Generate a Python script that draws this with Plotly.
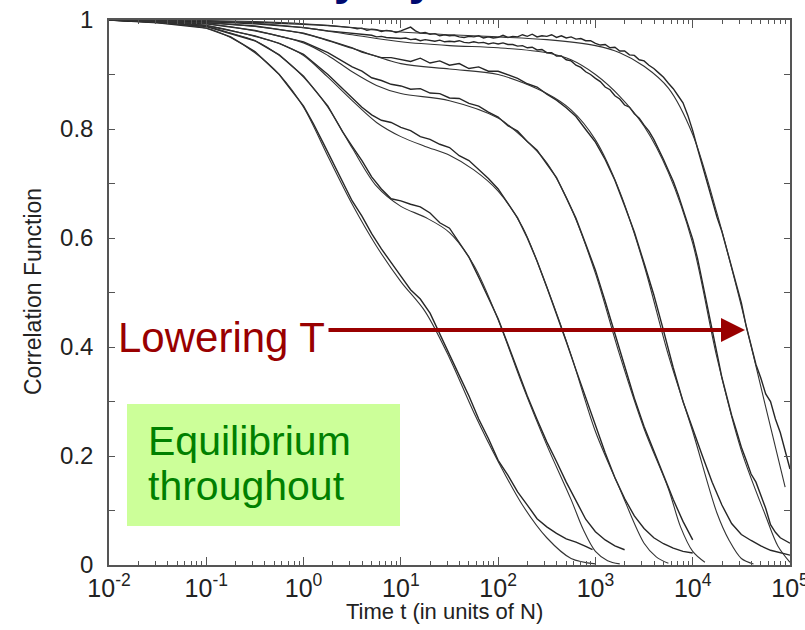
import plotly.graph_objects as go

# ---------------- fitted curves (log10 t, C) ----------------
fit1_logt = [-2, -1.5, -1, -0.75, -0.5, -0.25, 0, 0.25, 0.5, 0.75, 1, 1.25, 1.5, 1.75, 2, 2.25, 2.5, 2.75, 3]
fit1_c = [1, 0.995, 0.985, 0.968, 0.94, 0.9, 0.84, 0.75, 0.662, 0.585, 0.52, 0.465, 0.38, 0.28, 0.19, 0.11, 0.05, 0.012, 0.002]

fit2_logt = [-2, -1.5, -1, -0.75, -0.5, -0.25, 0, 0.25, 0.5, 0.75, 1, 1.25, 1.5, 1.75, 2, 2.25, 2.5, 2.75, 2.875, 3, 3.125, 3.25]
fit2_c = [1, 0.996, 0.988, 0.976, 0.962, 0.935, 0.895, 0.84, 0.765, 0.695, 0.658, 0.638, 0.61, 0.55, 0.45, 0.33, 0.22, 0.12, 0.065, 0.025, 0.008, 0.002]

fit3_logt = [-2, -1.5, -1, -0.5, -0.25, 0, 0.25, 0.5, 0.75, 1, 1.25, 1.5, 1.75, 2, 2.25, 2.5, 2.75, 3, 3.25, 3.5, 3.625, 3.75]
fit3_c = [1, 0.997, 0.99, 0.97, 0.957, 0.935, 0.895, 0.852, 0.812, 0.786, 0.768, 0.752, 0.725, 0.686, 0.62, 0.51, 0.385, 0.245, 0.14, 0.04, 0.015, 0.003]

fit4_logt = [-2, -1, -0.5, 0, 0.25, 0.5, 0.75, 1, 1.5, 2, 2.25, 2.5, 2.75, 3, 3.25, 3.5, 3.75, 3.875, 4, 4.125]
fit4_c = [1, 0.993, 0.98, 0.958, 0.935, 0.905, 0.88, 0.865, 0.852, 0.82, 0.785, 0.738, 0.655, 0.535, 0.385, 0.25, 0.14, 0.07, 0.025, 0.005]

fit5_logt = [-2, -1, -0.5, 0, 0.5, 1, 1.5, 2, 2.5, 2.75, 3, 3.25, 3.5, 3.75, 4, 4.25, 4.375, 4.5, 4.625]
fit5_c = [1, 0.995, 0.988, 0.975, 0.948, 0.92, 0.91, 0.9, 0.865, 0.835, 0.78, 0.685, 0.55, 0.385, 0.245, 0.095, 0.045, 0.012, 0.002]

fit6_logt = [-2, -1, -0.5, 0, 0.5, 1, 1.5, 2, 2.5, 2.75, 3, 3.25, 3.5, 3.75, 4, 4.25, 4.5, 4.75, 4.875, 5]
fit6_c = [1, 0.998, 0.994, 0.986, 0.973, 0.96, 0.953, 0.949, 0.94, 0.927, 0.9, 0.86, 0.805, 0.72, 0.59, 0.38, 0.21, 0.09, 0.035, 0.005]

fit7_logt = [-2, -1, -0.5, 0, 0.5, 1, 1.5, 2, 2.5, 3, 3.25, 3.5, 3.75, 4, 4.25, 4.5, 4.75, 4.95]
fit7_c = [1, 0.999, 0.997, 0.993, 0.986, 0.978, 0.973, 0.969, 0.964, 0.953, 0.94, 0.915, 0.875, 0.79, 0.645, 0.475, 0.29, 0.143]

# ---------------- simulation data (log10 t, C) ----------------
data1_logt = [-2, -1.5, -1, -0.75, -0.5, -0.25, 0, 0.1, 0.2, 0.3, 0.4, 0.5, 0.6, 0.7, 0.8, 0.9, 1.0, 1.1, 1.2, 1.3, 1.4,
              1.5, 1.6, 1.7, 1.8, 1.9, 2.0, 2.1, 2.2, 2.3, 2.4, 2.5, 2.6, 2.7, 2.8, 2.9, 2.97]
data1_c = [1, 0.995, 0.985, 0.969, 0.942, 0.9, 0.842, 0.81, 0.775, 0.74, 0.705, 0.668, 0.64, 0.608, 0.58, 0.556, 0.53,
           0.505, 0.488, 0.462, 0.425, 0.388, 0.348, 0.31, 0.268, 0.232, 0.192, 0.165, 0.134, 0.11, 0.085, 0.07, 0.058,
           0.048, 0.042, 0.034, 0.028]

data2_logt = [-2, -1.5, -1, -0.5, -0.25, 0, 0.25, 0.4, 0.5, 0.6, 0.7, 0.8, 0.9, 1.0, 1.1, 1.2, 1.3, 1.4, 1.5, 1.6, 1.7,
              1.8, 1.9, 2.0, 2.1, 2.2, 2.3, 2.4, 2.5, 2.6, 2.7, 2.8, 2.9, 3.0, 3.1, 3.2, 3.3]
data2_c = [1, 0.996, 0.988, 0.962, 0.936, 0.897, 0.842, 0.795, 0.768, 0.742, 0.712, 0.69, 0.672, 0.668, 0.662, 0.657,
           0.646, 0.628, 0.618, 0.592, 0.565, 0.528, 0.49, 0.452, 0.405, 0.358, 0.31, 0.267, 0.226, 0.19, 0.152, 0.118,
           0.084, 0.061, 0.046, 0.035, 0.028]

data3_logt = [-2, -1.5, -1, -0.5, -0.25, 0, 0.25, 0.5, 0.6, 0.7, 0.8, 0.9, 1.0, 1.1, 1.2, 1.3, 1.4, 1.5, 1.6, 1.7, 1.8,
              1.9, 2.0, 2.1, 2.2, 2.3, 2.4, 2.5, 2.6, 2.7, 2.8, 2.9, 3.0, 3.1, 3.2, 3.3, 3.4, 3.5, 3.6, 3.7, 3.8, 3.9, 4.0]
data3_c = [1, 0.997, 0.99, 0.971, 0.957, 0.937, 0.9, 0.857, 0.84, 0.826, 0.816, 0.812, 0.803, 0.797, 0.786, 0.781,
           0.772, 0.766, 0.751, 0.742, 0.725, 0.709, 0.69, 0.664, 0.637, 0.6, 0.558, 0.51, 0.462, 0.41, 0.358, 0.306,
           0.255, 0.206, 0.16, 0.122, 0.09, 0.067, 0.05, 0.039, 0.031, 0.025, 0.022]

data4_logt = [-2, -1, -0.5, 0, 0.25, 0.5, 0.6, 0.7, 0.8, 0.9, 1.0, 1.1, 1.2, 1.3, 1.4, 1.5, 1.6, 1.7, 1.8, 1.9, 2.0, 2.1,
              2.2, 2.3, 2.4, 2.5, 2.6, 2.7, 2.8, 2.9, 3.0, 3.1, 3.2, 3.3, 3.4, 3.5, 3.6, 3.7, 3.8, 3.9, 4.0]
data4_c = [1, 0.993, 0.981, 0.96, 0.94, 0.914, 0.906, 0.894, 0.889, 0.882, 0.879, 0.873, 0.874, 0.866, 0.865, 0.857,
           0.856, 0.847, 0.842, 0.831, 0.822, 0.806, 0.796, 0.777, 0.761, 0.737, 0.711, 0.674, 0.636, 0.589, 0.541,
           0.484, 0.426, 0.364, 0.306, 0.254, 0.21, 0.164, 0.12, 0.08, 0.046]

data5_logt = [-2, -1, -0.5, 0, 0.25, 0.5, 0.6, 0.7, 0.8, 0.9, 1.0, 1.1, 1.2, 1.3, 1.4, 1.5, 1.6, 1.7, 1.8, 1.9, 2.0, 2.1,
              2.2, 2.3, 2.4, 2.5, 2.6, 2.7, 2.8, 2.9, 3.0, 3.1, 3.2, 3.3, 3.4, 3.5, 3.6, 3.7, 3.8, 3.9, 4.0, 4.1, 4.2,
              4.3, 4.4, 4.5, 4.6, 4.7, 4.8, 4.9, 5.0]
data5_c = [1, 0.995, 0.989, 0.976, 0.963, 0.949, 0.941, 0.936, 0.931, 0.931, 0.928, 0.924, 0.93, 0.921, 0.925, 0.917,
           0.92, 0.911, 0.914, 0.906, 0.906, 0.899, 0.893, 0.883, 0.877, 0.864, 0.853, 0.839, 0.823, 0.799, 0.776,
           0.744, 0.706, 0.659, 0.611, 0.554, 0.496, 0.43, 0.362, 0.3, 0.249, 0.2, 0.152, 0.11, 0.076, 0.056, 0.045,
           0.035, 0.027, 0.022, 0.018]

data6_logt = [-2, -1.5, -1, -0.5, 0, 0.25,
              0.5, 0.55, 0.6, 0.65, 0.7, 0.75, 0.8, 0.85, 0.9, 0.95,
              1.0, 1.05, 1.1, 1.15, 1.2, 1.25, 1.3, 1.35, 1.4, 1.45,
              1.5, 1.55, 1.6, 1.65, 1.7, 1.75, 1.8, 1.85, 1.9, 1.95,
              2.0, 2.05, 2.1, 2.15, 2.2, 2.25, 2.3, 2.35, 2.4, 2.45,
              2.5, 2.55, 2.6, 2.65, 2.7, 2.75, 2.8, 2.85, 2.9, 2.95,
              3.0, 3.05, 3.1, 3.15, 3.2, 3.25, 3.3, 3.35, 3.4, 3.45,
              3.5, 3.55, 3.6, 3.65, 3.7, 3.75, 3.8, 3.85, 3.9, 3.95,
              4.0, 4.05, 4.1, 4.15, 4.2, 4.25, 4.3, 4.35, 4.4, 4.45,
              4.5, 4.55, 4.6, 4.65, 4.7, 4.75, 4.8, 4.85, 4.9, 4.95, 5.0]
data6_c = [1, 0.999, 0.997, 0.993, 0.986, 0.98,
           0.975, 0.974, 0.973, 0.972, 0.972, 0.969, 0.97, 0.968, 0.967, 0.966,
           0.966, 0.967, 0.964, 0.965, 0.962, 0.964, 0.962, 0.961, 0.963, 0.96,
           0.961, 0.96, 0.962, 0.959, 0.958, 0.96, 0.958, 0.959, 0.956, 0.958,
           0.956, 0.958, 0.955, 0.955, 0.952, 0.953, 0.949, 0.95, 0.945, 0.946,
           0.94, 0.94, 0.934, 0.934, 0.927, 0.925, 0.917, 0.913, 0.905, 0.9,
           0.893, 0.887, 0.877, 0.872, 0.861, 0.855, 0.844, 0.84, 0.828, 0.82,
           0.807, 0.796, 0.781, 0.764, 0.744, 0.724, 0.704, 0.68, 0.653, 0.629,
           0.598, 0.562, 0.52, 0.477, 0.43, 0.388, 0.344, 0.308, 0.275, 0.246,
           0.216, 0.192, 0.167, 0.152, 0.128, 0.104, 0.074, 0.06, 0.05, 0.045, 0.04]

data7_logt = [-2, -1.5, -1, -0.5, 0, 0.25,
              0.5, 0.55, 0.6, 0.65, 0.7, 0.75, 0.8, 0.85, 0.9, 0.95,
              1.0, 1.05, 1.1, 1.15, 1.2, 1.25, 1.3, 1.35, 1.4, 1.45,
              1.5, 1.55, 1.6, 1.65, 1.7, 1.75, 1.8, 1.85, 1.9, 1.95,
              2.0, 2.05, 2.1, 2.15, 2.2, 2.25, 2.3, 2.35, 2.4, 2.45,
              2.5, 2.55, 2.6, 2.65, 2.7, 2.75, 2.8, 2.85, 2.9, 2.95,
              3.0, 3.05, 3.1, 3.15, 3.2, 3.25, 3.3, 3.35, 3.4, 3.45,
              3.5, 3.55, 3.6, 3.65, 3.7, 3.75, 3.8, 3.85, 3.9, 3.95,
              4.0, 4.05, 4.1, 4.15, 4.2, 4.25, 4.3, 4.35, 4.4, 4.45,
              4.5, 4.55, 4.6, 4.65, 4.7, 4.75, 4.8, 4.85, 4.9, 4.95, 5.0]
data7_c = [1, 0.999, 0.998, 0.996, 0.992, 0.99,
           0.986, 0.984, 0.985, 0.981, 0.983, 0.982, 0.979, 0.981, 0.98, 0.977,
           0.98, 0.983, 0.987, 0.98, 0.976, 0.977, 0.974, 0.975, 0.971, 0.973,
           0.971, 0.972, 0.969, 0.968, 0.97, 0.969, 0.971, 0.967, 0.969, 0.967,
           0.968, 0.972, 0.968, 0.97, 0.969, 0.973, 0.97, 0.974, 0.969, 0.971,
           0.97, 0.973, 0.968, 0.971, 0.967, 0.969, 0.965, 0.966, 0.962, 0.962,
           0.957, 0.954, 0.955, 0.949, 0.95, 0.943, 0.943, 0.936, 0.935, 0.927,
           0.925, 0.917, 0.911, 0.903, 0.895, 0.884, 0.874, 0.861, 0.848, 0.825,
           0.797, 0.764, 0.733, 0.7, 0.672, 0.638, 0.612, 0.58, 0.55, 0.513,
           0.481, 0.438, 0.405, 0.368, 0.343, 0.314, 0.3, 0.268, 0.243, 0.208, 0.176]

fits = [(fit1_logt, fit1_c), (fit2_logt, fit2_c), (fit3_logt, fit3_c), (fit4_logt, fit4_c),
        (fit5_logt, fit5_c), (fit6_logt, fit6_c), (fit7_logt, fit7_c)]
datas = [(data1_logt, data1_c), (data2_logt, data2_c), (data3_logt, data3_c), (data4_logt, data4_c),
         (data5_logt, data5_c), (data6_logt, data6_c), (data7_logt, data7_c)]
for a, b in fits + datas:
    assert len(a) == len(b), (len(a), len(b))

x_tick_exponents = [-2, -1, 0, 1, 2, 3, 4, 5]
y_tick_values = [0, 0.2, 0.4, 0.6, 0.8, 1]
y_tick_text = ["0", "0.2", "0.4", "0.6", "0.8", "1"]

FONT = "Liberation Sans, Arial, sans-serif"

fig = go.Figure()
for lt, c in datas:
    fig.add_trace(go.Scatter(x=[10 ** v for v in lt], y=c, mode="lines",
                             line=dict(color="#262626", width=1.4), showlegend=False, hoverinfo="skip"))
for lt, c in fits:
    fig.add_trace(go.Scatter(x=[10 ** v for v in lt], y=c, mode="lines",
                             line=dict(color="#333333", width=1.1, shape="spline", smoothing=0.9),
                             showlegend=False, hoverinfo="skip"))

L, R, T, B = 109, 15, 20, 65
W, H = 805, 630
pw, ph = W - L - R, H - T - B


def px(x):
    return (x - L) / pw


def py(y):
    return (H - B - y) / ph


fig.add_shape(type="rect", xref="paper", yref="paper", x0=px(127), x1=px(400), y0=py(526), y1=py(404),
              fillcolor="#ccff99", line=dict(width=0), layer="below")

# slide title, mostly cut off above the picture
fig.add_annotation(xref="paper", yref="paper", x=px(402), y=py(6), xanchor="center", yanchor="bottom",
                   text="<b>Glassy Dynamics</b>", showarrow=False,
                   font=dict(family=FONT, size=48, color="#000a70"))

fig.add_annotation(xref="paper", yref="paper", x=px(116), y=py(337), xanchor="left", yanchor="middle",
                   text="Lowering T", showarrow=False, font=dict(family=FONT, size=42, color="#990000"))
fig.add_annotation(xref="paper", yref="paper", x=px(745), y=py(330), text="", showarrow=True,
                   ax=-418, ay=0, axref="pixel", ayref="pixel", arrowhead=2, arrowsize=1.2,
                   arrowwidth=4, arrowcolor="#990000")
fig.add_annotation(xref="paper", yref="paper", x=px(146), y=py(441), xanchor="left", yanchor="middle",
                   text="Equilibrium", showarrow=False, font=dict(family=FONT, size=41, color="#008000"))
fig.add_annotation(xref="paper", yref="paper", x=px(146), y=py(486), xanchor="left", yanchor="middle",
                   text="throughout", showarrow=False, font=dict(family=FONT, size=41, color="#008000"))

# axis titles
fig.add_annotation(xref="paper", yref="paper", x=px(444), y=py(611), xanchor="center", yanchor="middle",
                   text="Time t (in units of N)", showarrow=False,
                   font=dict(family=FONT, size=22, color="#222222"))
fig.add_annotation(xref="paper", yref="paper", x=px(33), y=py(292), xanchor="center", yanchor="middle",
                   text="Correlation Function", showarrow=False, textangle=-90,
                   font=dict(family=FONT, size=23, color="#222222"))

fig.update_layout(
    width=W, height=H, margin=dict(l=L, r=R, t=T, b=B),
    paper_bgcolor="white", plot_bgcolor="white",
    font=dict(family=FONT, color="#222222"),
    xaxis=dict(type="log", range=[-2, 5], showgrid=False, zeroline=False, automargin=False,
               showline=True, linecolor="#555555", linewidth=1.5, mirror="ticks",
               ticks="inside", ticklen=8, tickcolor="#555555", tickwidth=1.2,
               tickvals=[10 ** e for e in x_tick_exponents],
               ticktext=["10<sup>%d</sup>" % e for e in x_tick_exponents],
               tickfont=dict(size=25, color="#222222"), ticklabeloverflow="allow",
               ticklabelstandoff=0,
               minor=dict(ticks="inside", ticklen=4, tickcolor="#555555", dtick="D1", showgrid=False)),
    yaxis=dict(range=[0, 1], showgrid=False, zeroline=False, automargin=False,
               showline=True, linecolor="#555555", linewidth=1.5, mirror="ticks",
               ticks="inside", ticklen=6, tickcolor="#555555", tickwidth=1.2,
               tickvals=y_tick_values, ticktext=y_tick_text,
               tickfont=dict(size=24, color="#222222"), ticklabeloverflow="allow",
               ticklabelstandoff=9,
               minor=dict(ticks="inside", ticklen=6, tickcolor="#555555", dtick=0.1)),
)

fig.write_html("out.html")
